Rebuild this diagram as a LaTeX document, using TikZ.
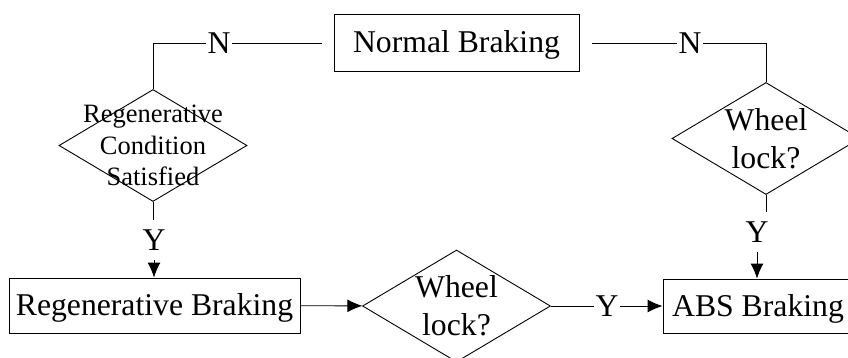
\documentclass[tikz,border=0pt]{standalone}
\usepackage{fontspec}
\setmainfont{Liberation Serif}
\usetikzlibrary{shapes.geometric,arrows.meta}

\begin{document}
\begin{tikzpicture}[x=1pt,y=-1pt,line width=0.9pt,>={Latex[length=15pt,width=13pt]},
  font=\fontsize{31.7}{38}\selectfont,
  blk/.style={draw,inner sep=0pt,text height=20pt,text depth=0pt},
  dec/.style={draw,diamond,inner sep=0pt,minimum width=188pt,minimum height=112pt},
  lab/.style={inner xsep=1pt,inner ysep=9pt}]
\useasboundingbox (0,0) rectangle (848,358);
\clip (0,0) rectangle (848,358);
\node[blk,minimum width=245pt,minimum height=57pt] (nb)at(456.5,42.5){Normal Braking};
\node[blk,minimum width=291pt,minimum height=55pt] (rb)at(154.5,305.5){Regenerative Braking};
\node[blk,minimum width=190pt,minimum height=54pt] (abs)at(758,306){ABS Braking};
\node[dec,label={[align=center,font=\fontsize{26.5}{31.7}\selectfont]center:Regenerative\\Condition\\Satisfied}] (rc)at(153,145.5){};
\node[dec,label={[align=center]center:Wheel\\lock?}] (wl1)at(456.5,306){};
\node[dec,label={[align=center]center:Wheel\\lock?}] (wl2)at(766,138.5){};
\coordinate (nbl) at(322,43);
\coordinate (nbr) at(592,43);
\node[lab] (nl)at(219,43){N};
\node[lab] (nr)at(690,43){N};
\node[lab] (yl)at(154,240){Y};
\node[lab] (yr)at(757,232){Y};
\node[lab] (ym)at(607,306){Y};
\draw (nbl) -- (nl);
\draw (nl) -- (nl -| rc.north) -- (rc.north);
\draw (nbr) -- (nr);
\draw (nr) -- (nr -| wl2.north) -- (wl2.north);
\draw (rc.south) -- (rc.south |- yl.north);
\draw[->] (yl) -- (rb.north -| yl);
\draw[->] (rb) -- (wl1);
\draw (wl1) -- (ym);
\draw[->] (ym) -- (abs);
\draw (wl2.south) -- (wl2.south |- yr.north);
\draw[->] (yr) -- (abs.north -| yr);
\end{tikzpicture}
\end{document}
